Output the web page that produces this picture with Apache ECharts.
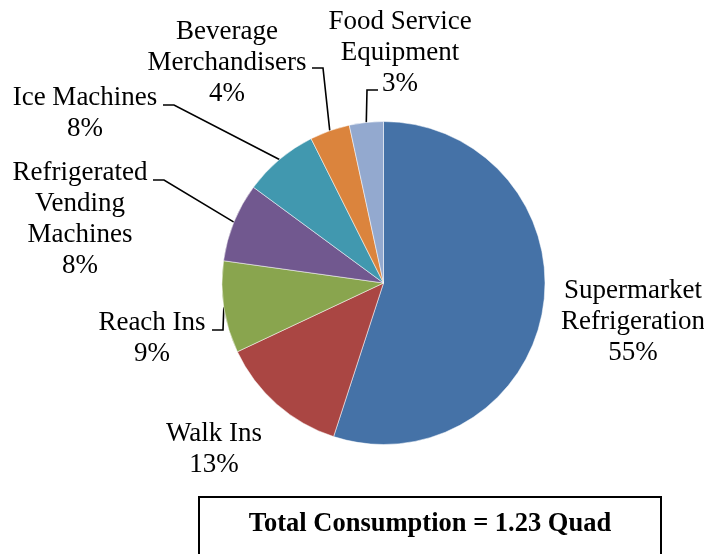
<!DOCTYPE html>
<html>
<head>
<meta charset="utf-8">
<script src="https://cdn.jsdelivr.net/npm/echarts@6/dist/echarts.min.js"></script>
<style>
  html, body { margin: 0; padding: 0; background: #fff; }
  #chart { width: 704px; height: 554px; }
</style>
</head>
<body>
<div id="chart"></div>
<script>
// categories and values (percent of total consumption)
const categories = [
  'Supermarket\nRefrigeration',
  'Walk Ins',
  'Reach Ins',
  'Refrigerated\nVending\nMachines',
  'Ice Machines',
  'Beverage\nMerchandisers',
  'Food Service\nEquipment'
]
const shares = [55, 13, 9.2, 7.9, 7.5, 4, 3.4]
const colors = ['#4572A7', '#AA4643', '#89A54E', '#71588F', '#4198AF', '#DB843D', '#93A9CF']
const totalText = 'Total Consumption = 1.23 Quad'

// label placement (layout only)
const labelPos = [[633, 322], [214, 449], [152, 338], [80, 219], [85, 113], [227, 63], [400, 53]]
const leaderEnds = [null, null, [212, 330], [153, 180], [163, 105], [312, 68], [378, 90]]

const serif = "'Liberation Serif', 'Times New Roman', serif"
const chart = echarts.init(document.getElementById('chart'))

const option = {
  animation: false,
  color: colors,
  series: [
    {
      type: 'pie',
      center: [383.5, 283],
      radius: 161.5,
      startAngle: 90,
      clockwise: true,
      avoidLabelOverlap: false,
      itemStyle: {
        borderColor: '#fff',
        borderWidth: 0.5
      },
      label: {
        show: true,
        position: 'outside',
        fontFamily: serif,
        fontSize: 27,
        lineHeight: 31,
        color: '#000',
        align: 'center',
        formatter: p => p.name + '\n' + Math.round(p.percent) + '%'
      },
      labelLine: {
        show: true,
        lineStyle: { color: '#000', width: 1.6 }
      },
      emphasis: { disabled: true },
      labelLayout: function (params) {
        const i = params.dataIndex
        const pos = labelPos[i]
        const out = { x: pos[0], y: pos[1], align: 'center', verticalAlign: 'middle' }
        const end = leaderEnds[i]
        if (end && params.labelLinePoints) {
          const s = params.labelLinePoints[0]
          const elbowX = end[0] + (s[0] > end[0] ? 11 : -11)
          out.labelLinePoints = [s, [elbowX, end[1]], end]
        }
        return out
      },
      data: categories.map((name, i) => ({
        name: name,
        value: shares[i],
        labelLine: { show: leaderEnds[i] !== null }
      }))
    }
  ],
  graphic: [
    {
      type: 'rect',
      shape: { x: 199, y: 497, width: 462, height: 80 },
      style: { fill: '#fff', stroke: '#000', lineWidth: 2 }
    },
    {
      type: 'text',
      x: 430,
      y: 524,
      style: {
        text: totalText,
        font: 'bold 26.5px ' + serif,
        fill: '#000',
        align: 'center',
        verticalAlign: 'middle'
      }
    }
  ]
}

chart.setOption(option)
</script>
</body>
</html>
